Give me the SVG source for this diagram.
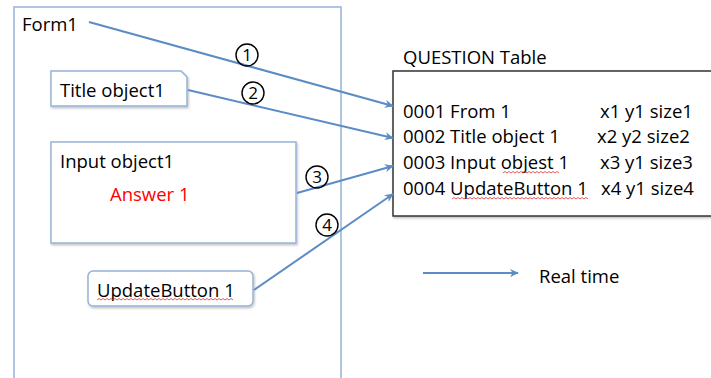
<svg xmlns="http://www.w3.org/2000/svg" width="711" height="378" viewBox="0 0 711 378">
  <defs>
    <marker id="arrow" viewBox="0 0 10 10" refX="9" refY="5" markerWidth="9" markerHeight="9" orient="auto" markerUnits="userSpaceOnUse">
      <path d="M0,0.5 L10,5 L0,9.5 L3,5 Z" fill="#5b8cc4"/>
    </marker>
    <filter id="shadow" x="-10%" y="-10%" width="120%" height="130%">
      <feDropShadow dx="1" dy="1.5" stdDeviation="1" flood-color="#000" flood-opacity="0.25"/>
    </filter>
  </defs>
  <style>
    text { font-family: "Open Sans", "Liberation Sans", sans-serif; font-size: 18.5px; fill: #000; }
    .box { fill: #fff; stroke: #95b3d7; stroke-width: 1.5; }
    .link { fill: none; stroke: #5b8cc4; stroke-width: 2; marker-end: url(#arrow); }
    .num { fill: none; stroke: #000; stroke-width: 1.4; }
    .numtxt { font-size: 17px; text-anchor: middle; }
    .squiggle { fill: none; stroke: #e03030; stroke-width: 0.8; }
  </style>

  <rect width="711" height="378" fill="#fff"/>

  <!-- Form container -->
  <g id="form1">
    <rect class="box" x="14" y="7" width="327" height="376"/>
    <text x="22" y="31">Form1</text>
  </g>

  <g id="title-object1">
    <path class="box" filter="url(#shadow)" d="M51,71 H181 L187,77 V106 H51 Z"/>
    <text x="60" y="97">Title object1</text>
  </g>

  <g id="input-object1">
    <rect class="box" filter="url(#shadow)" x="51" y="142" width="245" height="101"/>
    <text x="60" y="168">Input object1</text>
    <text x="110" y="201" style="fill:#ff0000">Answer 1</text>
  </g>

  <g id="update-button1">
    <rect class="box" filter="url(#shadow)" x="88" y="271" width="165" height="35" rx="5"/>
    <text x="97" y="297">UpdateButton 1</text>
    <path class="squiggle" d="M97,300 l2,-1.5 l2,1.5 l2,-1.5 l2,1.5 l2,-1.5 l2,1.5 l2,-1.5 l2,1.5 l2,-1.5 l2,1.5 l2,-1.5 l2,1.5 l2,-1.5 l2,1.5 l2,-1.5 l2,1.5 l2,-1.5 l2,1.5 l2,-1.5 l2,1.5 l2,-1.5 l2,1.5 l2,-1.5 l2,1.5 l2,-1.5 l2,1.5 l2,-1.5 l2,1.5 l2,-1.5 l2,1.5 l2,-1.5 l2,1.5 l2,-1.5 l2,1.5 l2,-1.5 l2,1.5 l2,-1.5 l2,1.5 l2,-1.5 l2,1.5 l2,-1.5 l2,1.5 l2,-1.5 l2,1.5 l2,-1.5 l2,1.5 l2,-1.5 l2,1.5 l2,-1.5 l2,1.5 l2,-1.5 l2,1.5 l2,-1.5 l2,1.5 l2,-1.5 l2,1.5 l2,-1.5 l2,1.5 l2,-1.5 l2,1.5 l2,-1.5 l2,1.5 l2,-1.5 l2,1.5 l2,-1.5 l2,1.5 l2,-1.5 l2,1.5"/>
  </g>

  <!-- Table -->
  <g id="question-table">
    <text x="403" y="64">QUESTION Table</text>
    <rect x="393" y="71" width="330" height="145" fill="#fff" stroke="#333" stroke-width="1.5" filter="url(#shadow)"/>
    <text x="403" y="118">0001 From 1</text>
    <text x="600" y="118">x1 y1 size1</text>
    <text x="403" y="143">0002 Title object 1</text>
    <text x="597" y="143">x2 y2 size2</text>
    <text x="403" y="169">0003 Input objest 1</text>
    <text x="600" y="169">x3 y1 size3</text>
    <path class="squiggle" d="M503,173 l2,-1.5 l2,1.5 l2,-1.5 l2,1.5 l2,-1.5 l2,1.5 l2,-1.5 l2,1.5 l2,-1.5 l2,1.5 l2,-1.5 l2,1.5 l2,-1.5 l2,1.5 l2,-1.5 l2,1.5 l2,-1.5 l2,1.5 l2,-1.5 l2,1.5 l2,-1.5 l2,1.5 l2,-1.5 l2,1.5 l2,-1.5 l2,1.5 l2,-1.5 l2,1.5"/>
    <text x="403" y="195">0004 UpdateButton 1</text>
    <text x="601" y="195">x4 y1 size4</text>
    <path class="squiggle" d="M452,199 l2,-1.5 l2,1.5 l2,-1.5 l2,1.5 l2,-1.5 l2,1.5 l2,-1.5 l2,1.5 l2,-1.5 l2,1.5 l2,-1.5 l2,1.5 l2,-1.5 l2,1.5 l2,-1.5 l2,1.5 l2,-1.5 l2,1.5 l2,-1.5 l2,1.5 l2,-1.5 l2,1.5 l2,-1.5 l2,1.5 l2,-1.5 l2,1.5 l2,-1.5 l2,1.5 l2,-1.5 l2,1.5 l2,-1.5 l2,1.5 l2,-1.5 l2,1.5 l2,-1.5 l2,1.5 l2,-1.5 l2,1.5 l2,-1.5 l2,1.5 l2,-1.5 l2,1.5 l2,-1.5 l2,1.5 l2,-1.5 l2,1.5 l2,-1.5 l2,1.5 l2,-1.5 l2,1.5 l2,-1.5 l2,1.5 l2,-1.5 l2,1.5 l2,-1.5 l2,1.5 l2,-1.5 l2,1.5 l2,-1.5 l2,1.5 l2,-1.5 l2,1.5 l2,-1.5 l2,1.5 l2,-1.5 l2,1.5 l2,-1.5 l2,1.5"/>
  </g>

  <!-- Connectors -->
  <g id="connectors">
    <line class="link" x1="89" y1="22" x2="393" y2="106"/>
    <line class="link" x1="188" y1="90" x2="393" y2="138"/>
    <line class="link" x1="297" y1="193" x2="393" y2="166"/>
    <line class="link" x1="254" y1="290" x2="393" y2="194"/>
    <line class="link" x1="423" y1="273" x2="518" y2="273"/>
  </g>

  <!-- Step numbers -->
  <g id="step-labels">
    <circle class="num" cx="247" cy="55" r="11"/>
    <text class="numtxt" x="247" y="61">1</text>
    <circle class="num" cx="253" cy="93" r="11"/>
    <text class="numtxt" x="253" y="99">2</text>
    <circle class="num" cx="317" cy="177" r="11"/>
    <text class="numtxt" x="317" y="183">3</text>
    <circle class="num" cx="327" cy="225" r="11"/>
    <text class="numtxt" x="327" y="231">4</text>
  </g>

  <g id="legend">
    <text x="539" y="283">Real time</text>
  </g>
</svg>
